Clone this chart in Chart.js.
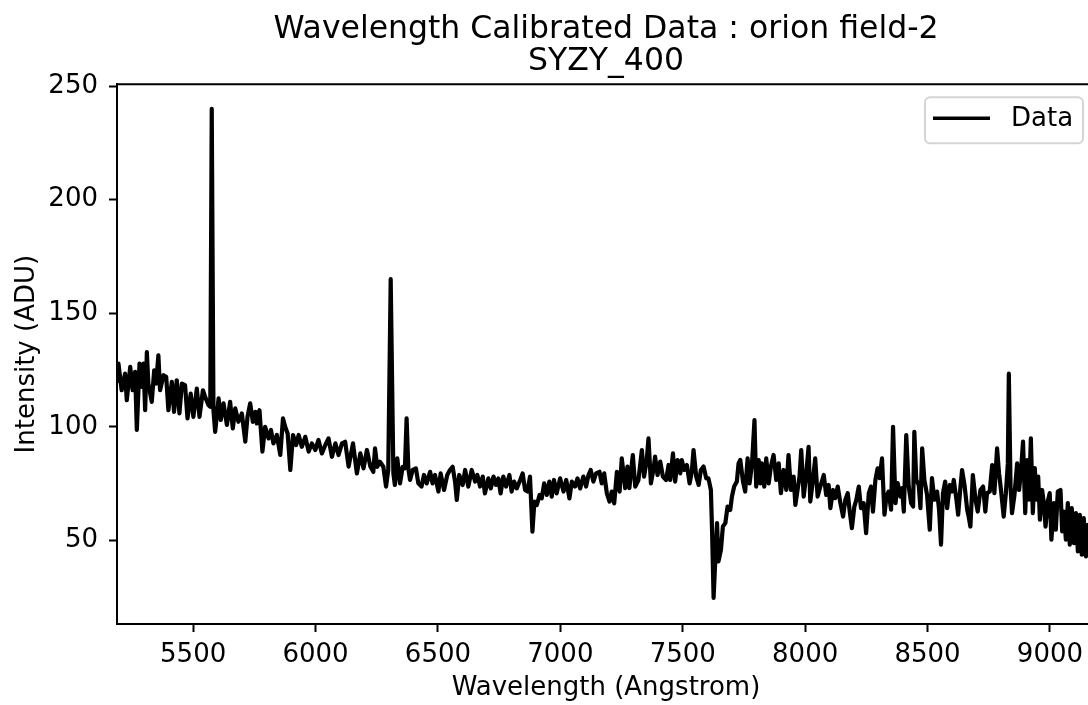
<!DOCTYPE html>
<html>
<head>
<meta charset="utf-8">
<script src="https://cdn.jsdelivr.net/npm/chart.js@4"></script>
<style>
  html, body { margin: 0; padding: 0; background: #fff; overflow: hidden; }
  #wrap { width: 1100px; height: 705px; }
</style>
</head>
<body>
<div id="wrap"><canvas id="spectrumCanvas" width="1100" height="705"></canvas></div>
<script>
const titleLines = ['Wavelength Calibrated Data : orion field-2', 'SYZY_400']
const seriesLabel = 'Data'
const xLabel = 'Wavelength (Angstrom)'
const yLabel = 'Intensity (ADU)'
const xTicks = [5500, 6000, 6500, 7000, 7500, 8000, 8500, 9000]
const yTicks = [50, 100, 150, 200, 250]
const xRange = [5189, 9184]
const yRange = [13.2, 250.8]

// Angstrom
const wavelength = [
  5189, 5195, 5208, 5222, 5229, 5243, 5253, 5263, 5270, 5281, 5290, 5297, 5304, 5311, 5317, 5331,
  5341, 5349, 5358, 5365, 5379, 5390, 5399, 5413, 5422, 5433, 5444, 5454, 5467, 5477, 5490, 5501,
  5515, 5526, 5540, 5549, 5563, 5570, 5576, 5583, 5590, 5604, 5613, 5624, 5638, 5651, 5662, 5672,
  5685, 5699, 5713, 5722, 5733, 5744, 5754, 5760, 5771, 5783, 5794, 5808, 5818, 5828, 5842, 5856,
  5867, 5876, 5886, 5897, 5908, 5921, 5931, 5944, 5958, 5972, 5985, 5999, 6012, 6026, 6040, 6053,
  6067, 6081, 6094, 6108, 6121, 6135, 6153, 6169, 6183, 6196, 6210, 6224,
  6236, 6243, 6252, 6263, 6277, 6288, 6297, 6307, 6318, 6324, 6334, 6345, 6356, 6365, 6372, 6379,
  6386, 6397, 6410, 6420, 6433, 6443, 6454, 6468, 6478, 6488, 6502, 6511, 6525, 6538, 6549, 6560,
  6570, 6577, 6587, 6601, 6611, 6624, 6638, 6652, 6661, 6672, 6683, 6692, 6706, 6716, 6727, 6737,
  6747, 6756, 6767, 6778, 6792, 6801, 6811, 6822, 6836, 6846, 6856, 6866, 6876, 6886, 6894, 6904,
  6915, 6924, 6934, 6945, 6955, 6965, 6974, 6985, 6999, 7013, 7024, 7037, 7047, 7060, 7070, 7081,
  7094, 7105, 7115, 7124, 7135, 7146, 7160, 7169, 7179, 7190, 7201, 7210, 7220, 7231, 7242, 7251,
  7265, 7274, 7282, 7296, 7306, 7319, 7333, 7342, 7353, 7360, 7370, 7381, 7387, 7397, 7408, 7419,
  7432, 7442, 7449, 7460, 7469, 7479, 7490, 7496, 7506, 7517, 7528, 7537, 7544, 7555, 7565, 7574,
  7585, 7596, 7605, 7615, 7620, 7626, 7633, 7640, 7646, 7656, 7664, 7674, 7683, 7694, 7701, 7710,
  7721, 7728, 7735, 7746, 7755, 7765, 7773, 7783, 7793, 7800, 7810, 7817, 7823, 7833, 7841, 7851,
  7860, 7871, 7882, 7892, 7901, 7912, 7923, 7932, 7942, 7953, 7960, 7969, 7977, 7984, 7994, 8002,
  8014, 8021, 8032, 8041, 8051, 8062, 8076, 8086, 8096, 8103, 8114, 8123, 8133, 8144, 8155, 8164,
  8174, 8182, 8191, 8201, 8209, 8219, 8228, 8239, 8249, 8260, 8269,
  8277, 8287, 8296, 8304, 8314, 8324, 8332, 8341, 8351, 8359, 8369, 8378, 8389, 8396, 8403, 8413,
  8423, 8433, 8441, 8446, 8454, 8464, 8471, 8478, 8487, 8498, 8509, 8518, 8528, 8539, 8547, 8555,
  8563, 8572, 8580, 8591, 8600, 8607, 8618, 8625, 8634, 8641, 8651, 8662, 8668, 8675, 8685, 8696,
  8705, 8716, 8727, 8736, 8743, 8754, 8764, 8773, 8784, 8792, 8800, 8811, 8820, 8828, 8832, 8839,
  8845, 8855, 8866, 8874, 8882, 8890, 8899, 8907, 8914, 8922, 8930, 8938, 8945, 8952, 8959, 8968,
  8975, 8982, 8991, 8999, 9006, 9016, 9024, 9032, 9043, 9050, 9057, 9065, 9073, 9081, 9089, 9098,
  9106, 9114, 9122, 9130, 9138, 9147, 9155, 9162
]

// ADU, same order as wavelength
const intensity = [
  120, 127.8, 116.1, 123.4, 111.7, 126.4, 116.1, 124.2, 98.6, 127.8, 117.6, 127.8, 107.3, 132.9, 119, 111,
  124.9, 119, 131.5, 116.1, 122.7, 122, 107.3, 119.8, 106.6, 120.5, 105.9, 119, 118.3, 103.7, 114.6, 104.4,
  116.8, 104.4, 116.1, 113.2, 109.5, 108.8, 240, 107.3, 97.8, 112.5, 103, 110.3, 100.8, 111, 99.3, 108.1,
  102.2, 105.9, 93.5, 104.4, 110.3, 102.2, 106.6, 101.5, 107.3, 89.1, 100, 94.9, 98.6, 92.7, 96.4, 87.6,
  103.7, 100, 97.1, 81, 96.4, 92, 96.4, 91.2, 95.6, 89.1, 92.7, 89.8, 94.2, 88.3, 92, 94.9,
  86.8, 92.7, 87.6, 92.7, 93.4, 82.5, 92.7, 79.5, 88.3, 81.7, 89.8, 82.5,
  80.2, 90.5, 82.4, 84.6, 82.4, 73.7, 81, 165, 79.5, 74.4, 86.1, 75.1, 82.4, 81.7, 103.7, 81.7,
  76.6, 81, 81.7, 75.1, 73.7, 78.8, 75.1, 80.2, 75.1, 78.8, 71.5, 79.5, 72.2, 78.8, 81, 82.4,
  75.9, 67.8, 78.8, 74.4, 81, 73.7, 81, 75.9, 78.8, 73.7, 78.1, 70.7, 77.3, 72.9, 78.1, 74.4,
  77.3, 70.7, 78.1, 73.7, 78.8, 71.5, 75.9, 72.9, 76.6, 79.5, 72.2, 71.5, 78.1, 53.9, 67.1, 65.6,
  70, 68.5, 75.1, 70, 75.9, 69.3, 76.6, 70.7, 77.3, 71.5, 76.6, 68.5, 75.9, 73.7, 77.3, 72.9,
  78.1, 73.7, 78.8, 81, 75.9, 79.5, 80.2, 75.1, 79.5, 70.7, 67.1, 71.5, 66.3, 80.2, 71.5, 86.1,
  73, 82.5, 73, 87.6, 73.7, 76.6, 89.8, 78.1, 85.4, 94.9, 75.1, 81.7, 86.9, 78.8, 84.7, 78.1,
  76.6, 83.2, 76.6, 88.3, 75.9, 85.4, 79.5, 85.4, 81, 83.2, 75.1, 80.3, 89.8, 78.1, 74.4, 81,
  82.5, 77.3, 77.3, 72.2, 53.2, 24.7, 41.5, 57.6, 40.8, 45.9, 56.1, 57.6, 64.9, 63.4, 69.3, 73.7,
  75.9, 83.9, 85.4, 75.9, 71.5, 86.1, 75.1, 83.9, 103, 73.7, 85.4, 75.1, 83.9, 73.7, 86.1, 75.1,
  82.5, 87.6, 76.6, 83.9, 70.8, 81, 72.2, 87.6, 72.2, 78.1, 65.6, 72.2, 78.1, 89.8, 69.3, 76.6,
  91.2, 67.1, 76.6, 86.1, 69.3, 73.7, 78.8, 70, 74.4, 64.2, 72.2, 68.6, 73.7, 66.4, 60.5, 67.8,
  70.8, 62.7, 55.4, 64.9, 67.8, 73.7, 64.2, 66.4, 53.2, 70.8, 73.7,
  62.7, 76.6, 81.7, 77.4, 86.1, 61.3, 69.3, 71.5, 63.5, 100, 66.4, 75.2, 69.3, 73, 62.7, 96.4,
  73.7, 66.4, 64.9, 97.8, 76.6, 74.4, 64.2, 90.5, 76.6, 70, 54.7, 77.4, 67.9, 71.5, 63.5, 48.1,
  70.8, 75.9, 64.2, 74.4, 71.5, 76.6, 67.9, 61.3, 73, 81, 74.4, 63.5, 60.5, 56.1, 78.8, 67.9,
  62.7, 72.2, 73.7, 62.7, 70.8, 71.5, 83.2, 70.8, 90.5, 79.6, 72.2, 60.5, 70.8, 83.9, 123.4, 73.7,
  62, 70, 83.9, 72.2, 81, 93.5, 62, 85.4, 67.9, 94.9, 62, 81.8, 67.9, 78.1, 59.1, 72.2,
  66.4, 56.1, 67.1, 70.8, 50.3, 66.4, 54.7, 71.5, 72.2, 54, 62.7, 50.3, 66.4, 48.1, 64.2, 48.8,
  62, 45.2, 61.3, 43.7, 59.8, 43, 56.9, 47
]

const FONT = 'DejaVu Sans'
const tickFont = { family: FONT, size: 26 }

// matplotlib style frame: top and right spines
const framePlugin = {
  id: 'frame',
  afterDraw (chart) {
    const { ctx, chartArea: a } = chart
    ctx.save()
    ctx.strokeStyle = '#000'
    ctx.lineWidth = 2
    ctx.beginPath()
    ctx.moveTo(a.left, a.top)
    ctx.lineTo(a.right, a.top)
    ctx.lineTo(a.right, a.bottom)
    ctx.stroke()
    ctx.restore()
  }
}

// legend box in the upper right corner of the axes
const legendPlugin = {
  id: 'boxLegend',
  afterDraw (chart) {
    const { ctx, chartArea: a } = chart
    const ds = chart.data.datasets[0]
    const w = 158
    const h = 46
    const x = a.right - 12 - w
    const y = a.top + 13
    ctx.save()
    ctx.fillStyle = 'rgba(255,255,255,0.8)'
    ctx.strokeStyle = '#d5d5d5'
    ctx.lineWidth = 2
    ctx.beginPath()
    ctx.roundRect(x, y, w, h, 5)
    ctx.fill()
    ctx.stroke()
    ctx.strokeStyle = ds.borderColor
    ctx.lineWidth = 3.5
    ctx.beginPath()
    ctx.moveTo(x + 8, y + 21)
    ctx.lineTo(x + 65, y + 21)
    ctx.stroke()
    ctx.fillStyle = '#000'
    ctx.font = `26px "${FONT}"`
    ctx.textBaseline = 'middle'
    ctx.textAlign = 'left'
    ctx.fillText(ds.label, x + 86, y + 22)
    ctx.restore()
  }
}

const ctx = document.getElementById('spectrumCanvas').getContext('2d')

new Chart(ctx, {
  type: 'line',
  data: {
    datasets: [{
      label: seriesLabel,
      data: wavelength.map((w, i) => ({ x: w, y: intensity[i] })),
      borderColor: '#000',
      borderWidth: 4.2,
      borderJoinStyle: 'round',
      borderCapStyle: 'round',
      pointRadius: 0,
      tension: 0,
      fill: false
    }]
  },
  options: {
    responsive: false,
    animation: false,
    devicePixelRatio: 1,
    layout: { padding: { top: 0, left: 0, right: 5, bottom: 0 } },
    plugins: {
      legend: { display: false },
      tooltip: { enabled: false },
      title: {
        display: true,
        text: titleLines,
        fullSize: false,
        color: '#000',
        font: { family: FONT, size: 31.5, weight: 'normal', lineHeight: 1.02 },
        padding: { top: 14, bottom: 6 }
      }
    },
    scales: {
      x: {
        type: 'linear',
        min: xRange[0],
        max: xRange[1],
        afterBuildTicks: s => { s.ticks = xTicks.map(v => ({ value: v })) },
        afterFit: s => { s.height = 81 },
        grid: { drawOnChartArea: false, tickLength: 8, tickWidth: 2, tickColor: '#000' },
        border: { color: '#000', width: 2 },
        ticks: { color: '#000', font: tickFont, padding: 8, maxRotation: 0, callback: v => String(v) },
        title: { display: true, text: xLabel, color: '#000', font: tickFont, padding: { top: 0, bottom: 1 } }
      },
      y: {
        min: yRange[0],
        max: yRange[1],
        afterBuildTicks: s => { s.ticks = yTicks.map(v => ({ value: v })) },
        afterFit: s => { s.width = 117 },
        grid: { drawOnChartArea: false, tickLength: 8, tickWidth: 2, tickColor: '#000' },
        border: { color: '#000', width: 2 },
        ticks: { color: '#000', font: tickFont, padding: 11, callback: v => String(v) },
        title: { display: true, text: yLabel, color: '#000', font: tickFont, padding: { top: 12, bottom: 0 } }
      }
    }
  },
  plugins: [framePlugin, legendPlugin]
})
</script>
</body>
</html>
